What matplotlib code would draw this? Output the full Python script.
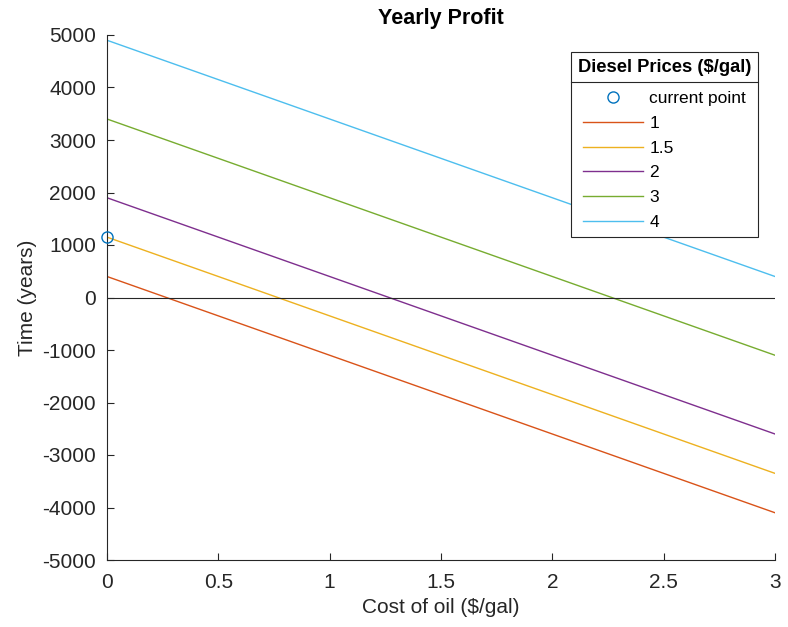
import matplotlib
matplotlib.use("Agg")
import matplotlib.pyplot as plt
from matplotlib.lines import Line2D

plt.rcParams["font.family"] = ["Liberation Sans", "DejaVu Sans"]
plt.rcParams["axes.unicode_minus"] = False

# data
oil_cost = [0, 3]
diesel_prices = ["1", "1.5", "2", "3", "4"]
profit_at_0 = [400, 1150, 1900, 3400, 4900]
profit_at_3 = [-4100, -3350, -2600, -1100, 400]
current_x = [0]
current_y = [1150]

colors = ["#D95319", "#EDB120", "#7E2F8E", "#77AC30", "#4DBEEE"]
blue = "#0072BD"
dark = "#262626"

W, H = 788, 627
fig = plt.figure(figsize=(W / 100, H / 100), dpi=100)
ax = fig.add_axes([107 / W, 1 - 560 / H, (775 - 107) / W, (560 - 35) / H])

ax.plot(current_x, current_y, "o", mfc="none", mec=blue, ms=8, mew=1.0,
        label="current point", clip_on=False, zorder=5)
for name, y0, y1, c in zip(diesel_prices, profit_at_0, profit_at_3, colors):
    ax.plot(oil_cost, [y0, y1], color=c, lw=1.0, label=name)
ax.plot(oil_cost, [0, 0], color=dark, lw=0.8)

ax.set_xlim(0, 3)
ax.set_ylim(-5000, 5000)
ax.set_xticks([0, 0.5, 1, 1.5, 2, 2.5, 3])
ax.set_xticklabels(["0", "0.5", "1", "1.5", "2", "2.5", "3"])
ax.set_yticks(range(-5000, 5001, 1000))
for s in ("top", "right"):
    ax.spines[s].set_visible(False)
for s in ("left", "bottom"):
    ax.spines[s].set_color(dark)
    ax.spines[s].set_linewidth(0.8)
ax.tick_params(direction="in", length=5, width=0.8, colors=dark,
               labelsize=15, labelcolor=dark)
ax.tick_params(axis="x", pad=9)
ax.tick_params(axis="y", pad=8)

ax.set_title("Yearly Profit", fontsize=15.5, fontweight="bold", pad=8)
ax.set_xlabel("Cost of oil ($/gal)", fontsize=15, color=dark, labelpad=5)
ax.set_ylabel("Time (years)", fontsize=15, color=dark, labelpad=4)

leg = ax.legend(title="Diesel Prices ($/gal)", loc="upper right",
                bbox_to_anchor=((758 - 107) / 668, (560 - 52) / 525), borderaxespad=0,
                fontsize=12.5, frameon=True, fancybox=False, edgecolor=dark,
                framealpha=1, handlelength=3.5, handletextpad=0.35,
                labelspacing=0.55, borderpad=0.4,
                title_fontproperties={"weight": "bold", "size": 13.2})
leg.get_frame().set_linewidth(0.8)
leg._legend_box.align = "center"
leg._legend_box.sep = 11

fig.canvas.draw()
fb = leg.get_frame().get_window_extent()
tb = leg.get_title().get_window_extent()
sep_y = tb.y0 - 6
inv = fig.transFigure.inverted()
(x0, y0), (x1, _) = inv.transform([(fb.x0, sep_y), (fb.x1, sep_y)])
fig.add_artist(Line2D([x0, x1], [y0, y0], color=dark, lw=0.8))

fig.savefig("out.png", dpi=100)
